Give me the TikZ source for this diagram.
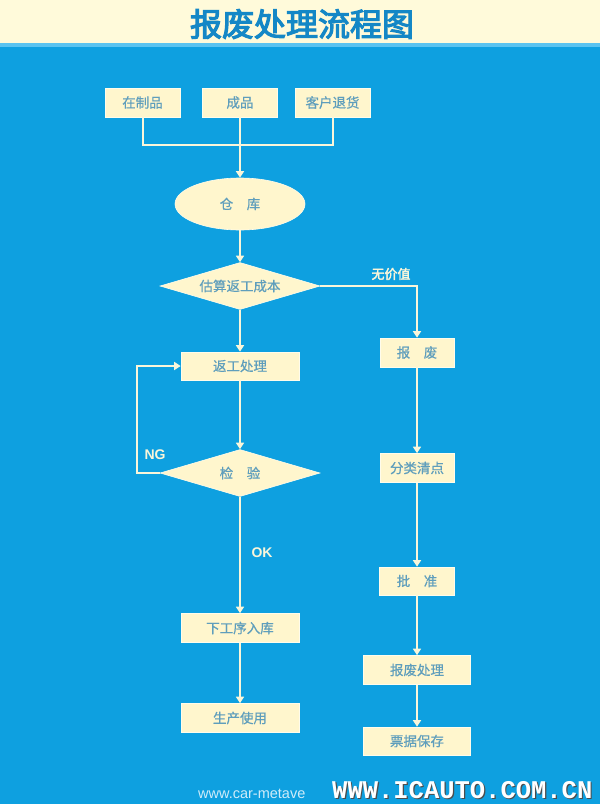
\documentclass[tikz,border=0pt]{standalone}
\usepackage{fontspec}
\usetikzlibrary{shapes.geometric,arrows.meta}
\newfontfamily\cjk{Noto Sans CJK SC}[FakeBold=0.6]
\newfontfamily\cjkbold{Noto Sans CJK SC}[FakeBold=3.5]
\newfontfamily\cjklab{Noto Sans CJK SC}[FakeBold=2.5]
\newfontfamily\labsans{Liberation Sans}
\newfontfamily\wmmono{Liberation Mono}
\definecolor{bgblue}{RGB}{14,160,224}
\definecolor{bandcream}{RGB}{255,250,218}
\definecolor{bandline}{RGB}{90,195,240}
\definecolor{titleblue}{RGB}{20,135,198}
\definecolor{boxfill}{RGB}{255,246,205}
\definecolor{boxedge}{RGB}{255,252,235}
\definecolor{boxtext}{RGB}{95,158,188}
\definecolor{linecol}{RGB}{250,246,218}
\tikzset{
  box/.style={rectangle, fill=boxfill, draw=boxedge, line width=0.6pt, inner sep=0pt,
    font=\cjk\fontsize{13.5}{14}\selectfont, text=boxtext},
  oval/.style={ellipse, fill=boxfill, draw=boxedge, line width=0.6pt, inner sep=0pt,
    minimum width=130, minimum height=52, font=\cjk\fontsize{13.5}{14}\selectfont, text=boxtext},
  dia/.style={diamond, fill=boxfill, draw=boxedge, line width=0.6pt, inner sep=0pt,
    minimum width=160, minimum height=47, aspect=3.4, font=\cjk\fontsize{13.5}{14}\selectfont, text=boxtext},
  conn/.style={draw=linecol, line width=2pt},
  arr/.style={conn, -{Triangle[width=8pt,length=6.5pt]}},
  lab/.style={text=linecol, inner sep=0pt},
}
\begin{document}
\begin{tikzpicture}[x=1pt,y=-1pt]
\useasboundingbox (0,0) rectangle (600,804);
\fill[bgblue] (0,0) rectangle (600,804);
\fill[bandcream] (0,0) rectangle (600,43);
\fill[bandline] (0,43) rectangle (600,46.5);
\node[text=titleblue, font=\cjkbold\fontsize{32}{34}\selectfont, inner sep=0pt] (title) at (302,24) {报废处理流程图};

% top row
\node[box, minimum width=75, minimum height=29] (zzp) at (142.5,102.5) {在制品};
\node[box, minimum width=75, minimum height=29] (cp) at (240,102.5) {成品};
\node[box, minimum width=75, minimum height=29] (khth) at (332.5,102.5) {客户退货};
\coordinate (j) at (240,145);

\node[oval] (ck) at (240,204) {仓\hspace{1em}库};
\node[dia] (gs) at (240,286) {估算返工成本};
\node[box, minimum width=118, minimum height=28] (fg) at (240,366) {返工处理};
\node[dia] (jy) at (240,473) {检\hspace{1em}验};
\node[box, minimum width=118, minimum height=29] (xgx) at (240,628) {下工序入库};
\node[box, minimum width=118, minimum height=29] (scsy) at (240,718) {生产使用};

\node[box, minimum width=74, minimum height=29] (bf) at (417,352.5) {报\hspace{1em}废};
\node[box, minimum width=74, minimum height=29] (flqd) at (417,468) {分类清点};
\node[box, minimum width=75, minimum height=28] (pz) at (417,581) {批\hspace{1em}准};
\node[box, minimum width=107, minimum height=29] (bfcl) at (417,670) {报废处理};
\node[box, minimum width=107, minimum height=28] (pjbc) at (417,741) {票据保存};

% connectors
\draw[conn] (zzp.south) |- (j) -| (khth.south);
\draw[arr] (cp.south) -- (ck.north);
\draw[arr] (ck.south) -- (gs.north);
\draw[arr] (gs.east) -| (bf.north);
\draw[arr] (gs.south) -- (fg.north);
\draw[arr] (fg.south) -- (jy.north);
\coordinate (ngc) at (137,473);
\draw[arr] (jy.west) -- (ngc) |- (fg.west);
\draw[arr] (jy.south) -- (xgx.north);
\draw[arr] (xgx.south) -- (scsy.north);
\draw[arr] (bf.south) -- (flqd.north);
\draw[arr] (flqd.south) -- (pz.north);
\draw[arr] (pz.south) -- (bfcl.north);
\draw[arr] (bfcl.south) -- (pjbc.north);

% labels
\node[lab, font=\cjklab\fontsize{13}{13}\selectfont] (wjz) at (391,274) {无价值};
\node[lab, font=\labsans\bfseries\fontsize{14}{14}\selectfont] (ng) at (155,455) {NG};
\node[lab, font=\labsans\bfseries\fontsize{14}{14}\selectfont] (ok) at (262,553) {OK};

% watermarks
\node[text=white!80!bgblue, font=\labsans\fontsize{14.5}{15}\selectfont, anchor=base west, inner sep=0pt] (wm1) at (198,798) {www.car-metave};
\node[text=black!70, font=\wmmono\bfseries\fontsize{25.5}{26}\selectfont, anchor=base west, inner sep=0pt] (wm2s) at (333.2,799.2) {WWW.ICAUTO.COM.CN};
\node[text=white, font=\wmmono\bfseries\fontsize{25.5}{26}\selectfont, anchor=base west, inner sep=0pt] (wm2) at (332,798) {WWW.ICAUTO.COM.CN};
\end{tikzpicture}
\end{document}
